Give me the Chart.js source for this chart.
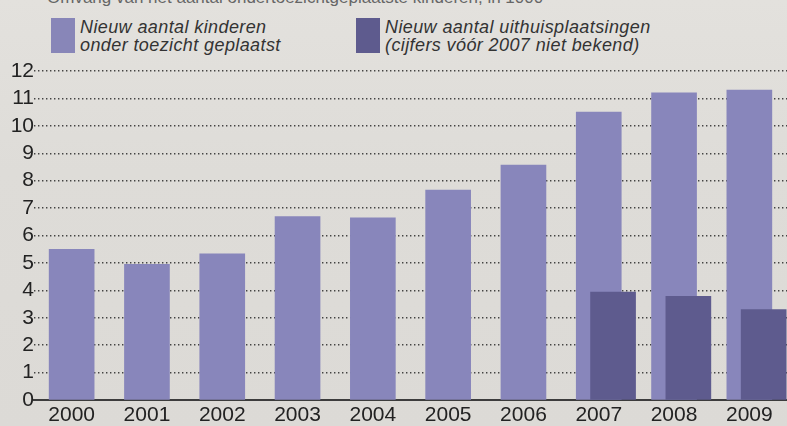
<!DOCTYPE html>
<html>
<head>
<meta charset="utf-8">
<script src="https://cdn.jsdelivr.net/npm/chart.js@4/dist/chart.umd.min.js"></script>
<style>
  html, body { margin: 0; padding: 0; }
  body {
    width: 787px; height: 426px; overflow: hidden; position: relative;
    background: linear-gradient(180deg, #e3e1dd 0%, #dedcd8 40%, #dcdad6 100%);
    font-family: "Liberation Sans", Arial, sans-serif;
  }
  #wrap { position: absolute; left: 0; top: 0; width: 787px; height: 426px; }
  .top-title {
    position: absolute; left: 47px; top: -12px; font-size: 17px; color: #666;
    white-space: nowrap;
  }
  .legend-item { position: absolute; top: 18px; }
  .legend-item .sw { position: absolute; left: 0; top: 0; width: 24px; height: 35px; }
  .legend-item .txt {
    position: absolute; left: 29px; top: 0px; font-style: italic; font-size: 18px;
    letter-spacing: 0.4px; line-height: 18px; color: #333; white-space: nowrap;
  }
</style>
</head>
<body>
<div class="top-title">Omvang van het aantal ondertoezichtgeplaatste kinderen, in 1000</div>
<div class="legend-item" style="left:51px">
  <div class="sw" style="background:#8886b8"></div>
  <div class="txt">Nieuw aantal kinderen<br>onder toezicht geplaatst</div>
</div>
<div class="legend-item" style="left:356px">
  <div class="sw" style="background:#5e5b8e"></div>
  <div class="txt">Nieuw aantal uithuisplaatsingen<br>(cijfers vóór 2007 niet bekend)</div>
</div>
<div id="wrap"><canvas id="barChart" width="787" height="426"></canvas></div>
<script>
const years = ['2000', '2001', '2002', '2003', '2004', '2005', '2006', '2007', '2008', '2009'];
const toezicht = [5.5, 4.95, 5.33, 6.69, 6.64, 7.66, 8.57, 10.5, 11.2, 11.3];
const uithuis = [null, null, null, null, null, null, null, 3.94, 3.78, 3.3];
const yTicks = [0, 1, 2, 3, 4, 5, 6, 7, 8, 9, 10, 11, 12];

// the dark bars sit a bit to the right of the light ones
const shift = 0.19;

new Chart(document.getElementById('barChart'), {
    type: 'bar',
    data: {
        labels: years,
        datasets: [{
            label: 'Nieuw aantal kinderen onder toezicht geplaatst',
            data: toezicht,
            backgroundColor: '#8886bb',
            barThickness: 45,
            grouped: false,
            xAxisID: 'x',
            order: 2
        }, {
            label: 'Nieuw aantal uithuisplaatsingen',
            data: uithuis.map((v, i) => ({ x: i, y: v })),
            backgroundColor: '#5e5b8e',
            barThickness: 45,
            grouped: false,
            xAxisID: 'x2',
            order: 1
        }]
    },
    options: {
        responsive: false,
        animation: false,
        layout: { padding: { top: 71, right: 0, left: 0, bottom: 0 } },
        plugins: {
            legend: { display: false },
            tooltip: { enabled: false }
        },
        scales: {
            x: {
                type: 'category',
                offset: true,
                grid: { display: false, drawTicks: false },
                border: { display: true, color: '#3c3c3c', width: 2 },
                ticks: {
                    color: '#222',
                    padding: 3,
                    font: { family: '"Liberation Sans Narrow", "Liberation Sans", sans-serif', size: 21 }
                },
                afterFit: function (scale) { scale.height = 26; }
            },
            x2: {
                type: 'linear',
                display: false,
                offset: false,
                bounds: 'data',
                grace: 0,
                min: -0.5 - shift,
                max: years.length - 0.5 - shift,
                grid: { offset: false },
                ticks: { includeBounds: true }
            },
            y: {
                min: 0,
                max: 12,
                afterBuildTicks: function (scale) {
                    scale.ticks = yTicks.map(v => ({ value: v }));
                },
                grid: {
                    color: 'rgba(40,40,40,0.85)',
                    lineWidth: 1.4,
                    drawTicks: false
                },
                border: { display: false, dash: [1.4, 2.6] },
                ticks: {
                    color: '#222',
                    padding: 0,
                    autoSkip: false,
                    font: { family: '"Liberation Sans Narrow", "Liberation Sans", sans-serif', size: 21 }
                },
                afterFit: function (scale) { scale.width = 34; }
            }
        }
    }
});
</script>
</body>
</html>
